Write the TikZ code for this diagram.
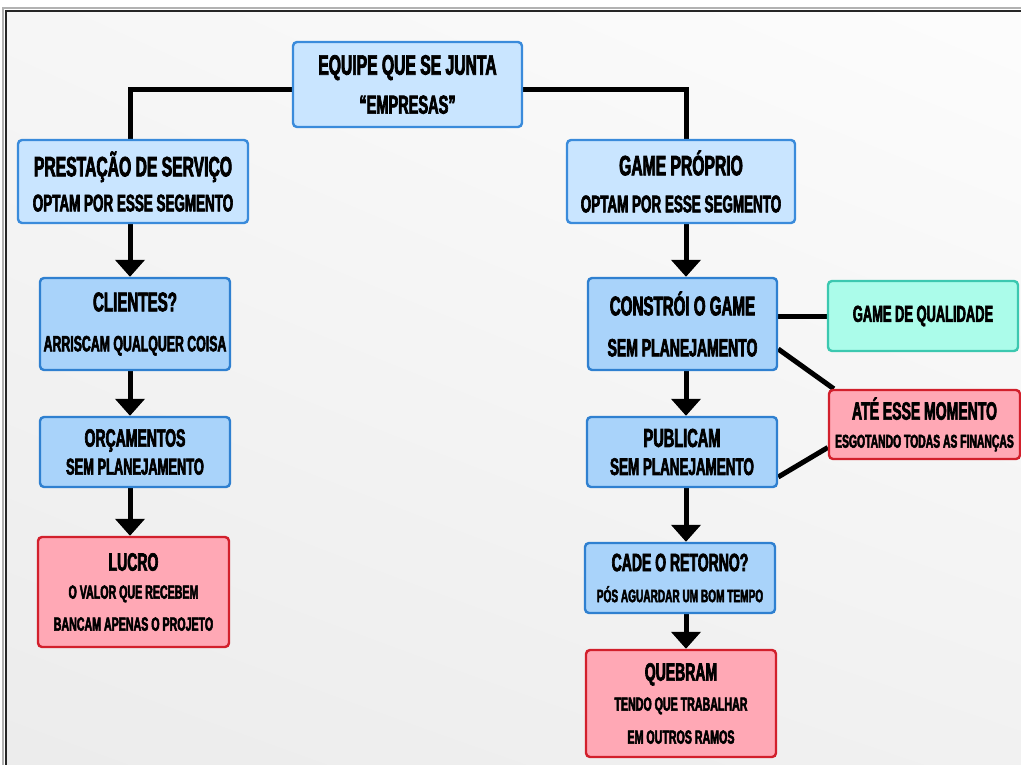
\documentclass[tikz,border=0pt]{standalone}
\usepackage{fontspec}
\usetikzlibrary{arrows.meta,shadings}
\newfontfamily\comic[FakeStretch=0.56,BoldFeatures={FakeBold=2.6}]{Liberation Sans}
\newcommand\fsz[1]{\fontsize{#1}{30}\selectfont}

\definecolor{blueA}{HTML}{C9E5FF}
\definecolor{blueB}{HTML}{3A8BDB}
\definecolor{blueC}{HTML}{A9D3FA}
\definecolor{blueD}{HTML}{2F80D0}
\definecolor{redA}{HTML}{FFA8B5}
\definecolor{redB}{HTML}{D2202C}
\definecolor{tealA}{HTML}{ABFCEA}
\definecolor{tealB}{HTML}{3CC8B0}

\pgfdeclarelayer{bg}
\pgfdeclarelayer{lines}
\pgfsetlayers{bg,lines,main}

\tikzset{
  box/.style={draw, line width=2.4pt, rounded corners=4pt, inner sep=0pt,
    align=center, font=\comic\bfseries\fsz{24}},
  bluelt/.style={box, fill=blueA, draw=blueB},
  bluemd/.style={box, fill=blueC, draw=blueD},
  redbox/.style={box, fill=redA, draw=redB},
  tealbox/.style={box, fill=tealA, draw=tealB},
  conn/.style={line width=5pt, black},
  arr/.style={conn, -{Triangle[width=29pt,length=17pt]}},
}

\begin{document}
\begin{tikzpicture}[x=1pt,y=-1pt]
\useasboundingbox (0,0) rectangle (1021,765);

% backdrop and frame
\begin{pgfonlayer}{bg}
  \fill[white] (0,0) rectangle (1021,765);
  \shade[upper left=gray!7, upper right=gray!2, lower left=gray!15, lower right=gray!11]
    (6,11) rectangle (1021,765);
  \draw[line width=2.5pt, gray!60] (3,765) -- (3,8) -- (1021,8);
  \draw[line width=1.4pt, black!85] (6,765) -- (6,11) -- (1021,11);
\end{pgfonlayer}

% axes of the two columns
\coordinate (lx) at (130,0);
\coordinate (rx) at (686,0);

% boxes
\node[bluelt, minimum width=229pt, minimum height=85pt] (top) at (407.5,84.5)
  {{\fsz{28}EQUIPE QUE SE JUNTA}\\[9pt]{\fsz{26}“EMPRESAS”}};

\node[bluelt, minimum width=230pt, minimum height=83pt] (prest) at (133,181.5)
  {{\fsz{28}PRESTAÇÃO DE SERVIÇO}\\[5pt]{\fsz{24}OPTAM POR ESSE SEGMENTO}};
\node[bluemd, minimum width=190pt, minimum height=92pt] (cli) at (135,324)
  {{\fsz{27}CLIENTES?}\\[10pt]{\fsz{22}ARRISCAM QUALQUER COISA}};
\node[bluemd, minimum width=190pt, minimum height=70pt] (orc) at (135,452)
  {{\fsz{25}ORÇAMENTOS}\\[-2pt]{\fsz{23}SEM PLANEJAMENTO}};
\node[redbox, minimum width=191pt, minimum height=110pt] (lucro) at (133.5,592)
  {{\fsz{25}LUCRO}\\[-2pt]{\fsz{19}O VALOR QUE RECEBEM}\\[2pt]{\fsz{19}BANCAM APENAS O PROJETO}};

\node[bluelt, minimum width=228pt, minimum height=83pt] (game) at (681,181.5)
  {{\fsz{28}GAME PRÓPRIO}\\[7pt]{\fsz{24}OPTAM POR ESSE SEGMENTO}};
\node[bluemd, minimum width=189pt, minimum height=92pt] (cons) at (682.5,324)
  {{\fsz{27}CONSTRÓI O GAME}\\[11pt]{\fsz{25}SEM PLANEJAMENTO}};
\node[tealbox, minimum width=190pt, minimum height=70pt] (qual) at (923,316)
  {{\fsz{23}GAME DE QUALIDADE}};
\node[redbox, minimum width=191pt, minimum height=69pt] (ate) at (924.5,424.5)
  {{\fsz{25}ATÉ ESSE MOMENTO}\\[-2pt]{\fsz{18.5}ESGOTANDO TODAS AS FINANÇAS}};
\node[bluemd, minimum width=190pt, minimum height=70pt] (pub) at (682,452)
  {{\fsz{26}PUBLICAM}\\[-2pt]{\fsz{24}SEM PLANEJAMENTO}};
\node[bluemd, minimum width=190pt, minimum height=70pt] (cade) at (680,578)
  {{\fsz{25}CADE O RETORNO?}\\[1pt]{\fsz{18}PÓS AGUARDAR UM BOM TEMPO}};
\node[redbox, minimum width=190pt, minimum height=107pt] (queb) at (681,703.5)
  {{\fsz{25}QUEBRAM}\\[0pt]{\fsz{19}TENDO QUE TRABALHAR}\\[3pt]{\fsz{19}EM OUTROS RAMOS}};

% connectors
\begin{pgfonlayer}{lines}
  \draw[conn] ([yshift=-5pt]top.west) -| (prest.north -| lx);
  \draw[conn] ([yshift=-5pt]top.east) -| (game.north -| rx);

  \draw[arr] (prest.south -| lx) -- (cli.north -| lx);
  \draw[arr] (cli.south -| lx) -- (orc.north -| lx);
  \draw[arr] (orc.south -| lx) -- (lucro.north -| lx);

  \draw[arr] (game.south -| rx) -- (cons.north -| rx);
  \draw[arr] (cons.south -| rx) -- (pub.north -| rx);
  \draw[arr] (pub.south -| rx) -- (cade.north -| rx);
  \draw[arr] (cade.south -| rx) -- (queb.north -| rx);

  \draw[conn] (qual.west -| cons.east) -- (qual.west);
  \draw[conn] ([yshift=-25pt]cons.east) -- ([xshift=6pt]ate.north west);
  \draw[conn] ([yshift=-25pt]pub.east) -- ([yshift=-23pt]ate.west);
\end{pgfonlayer}
\end{tikzpicture}
\end{document}
